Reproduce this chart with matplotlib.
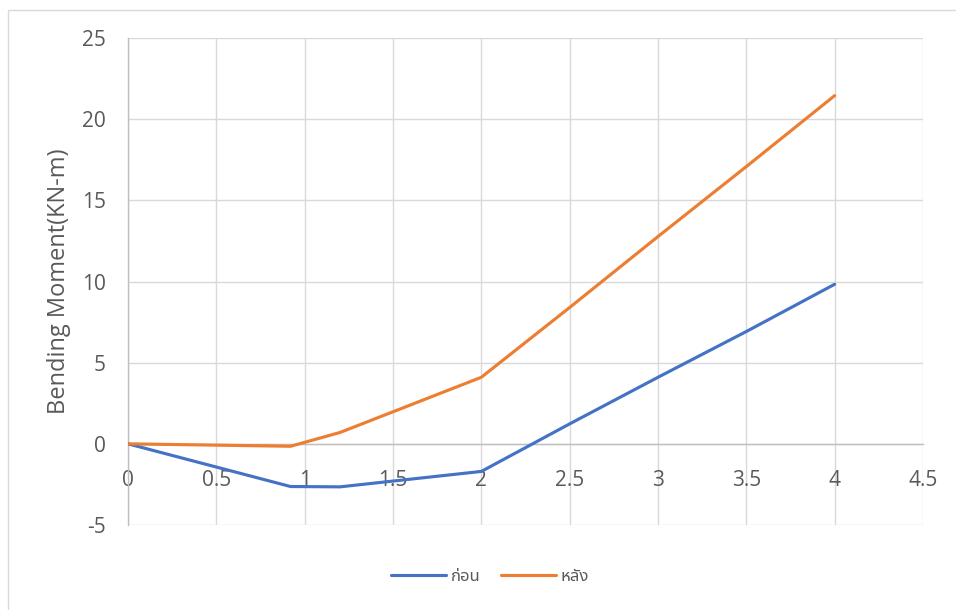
import matplotlib
matplotlib.use("Agg")
import matplotlib.pyplot as plt
from matplotlib import font_manager as fm
from matplotlib.patches import Rectangle

# ---- data ----
x_pos = [0, 0.92, 1.2, 2, 2.5, 3, 3.5, 4]
before = [0, -2.63, -2.65, -1.7, 1.23, 4.1, 6.92, 9.83]
after = [0, -0.15, 0.7, 4.1, 8.4, 12.77, 17.08, 21.45]
series_names = ["ก่อน", "หลัง"]
x_ticks = [0, 0.5, 1, 1.5, 2, 2.5, 3, 3.5, 4, 4.5]
x_ticklabels = ["0", "0.5", "1", "1.5", "2", "2.5", "3", "3.5", "4", "4.5"]
y_ticks = [-5, 0, 5, 10, 15, 20, 25]
y_label = "Bending Moment(KN-m)"

# ---- fonts ----
names = {f.name for f in fm.fontManager.ttflist}
latin = "Open Sans" if "Open Sans" in names else "DejaVu Sans"
thai = None
for cand in ["Noto Sans Thai", "Noto Sans Thai UI", "Sarabun", "Tahoma", "Leelawadee UI",
             "Loma", "Garuda", "Kanit", "Prompt", "Anuphan", "Bai Jamjuree"]:
    if cand in names:
        thai = cand
        break
fam = [latin] + ([thai] if thai else []) + ["DejaVu Sans"]
plt.rcParams['font.family'] = fam
plt.rcParams['axes.unicode_minus'] = False

text_col = "#595959"
grid_col = "#D9D9D9"
axis_col = "#BFBFBF"
blue = "#4472C4"
orange = "#ED7D31"

W, H = 956, 610
fig = plt.figure(figsize=(W / 100, H / 100), dpi=100)
fig.patch.set_facecolor("white")

# chart-area frame
fig.patches.append(Rectangle((7.5 / W, -0.1), 1.2, 1 - 9.5 / H + 0.1,
                             transform=fig.transFigure, fill=False,
                             edgecolor=grid_col, linewidth=1.0))

ax = fig.add_axes([128 / W, 1 - 525 / H, (923 - 128) / W, (525 - 38) / H])
ax.set_xlim(0, 4.5)
ax.set_ylim(-5, 25)
ax.set_xticks(x_ticks)
ax.set_xticklabels(x_ticklabels)
ax.set_yticks(y_ticks)
ax.grid(True, color=grid_col, linewidth=1.0)
ax.set_axisbelow(True)

for s in ["top", "right"]:
    ax.spines[s].set_visible(False)
ax.spines["left"].set_color(axis_col)
ax.spines["left"].set_linewidth(1.0)
ax.spines["bottom"].set_position(("data", 0))
ax.spines["bottom"].set_color(axis_col)
ax.spines["bottom"].set_linewidth(1.0)

ax.tick_params(axis="both", length=0, labelsize=15, labelcolor=text_col)
ax.tick_params(axis="x", pad=19)
ax.tick_params(axis="y", pad=16)

ax.plot(x_pos, before, color=blue, linewidth=2.25, solid_capstyle="round",
        solid_joinstyle="round", label=series_names[0], zorder=3)
ax.plot(x_pos, after, color=orange, linewidth=2.25, solid_capstyle="round",
        solid_joinstyle="round", label=series_names[1], zorder=3)

ax.set_ylabel(y_label, fontsize=17, color=text_col)
ax.yaxis.set_label_coords(-(128 - 71) / (923 - 128), 0.5)

leg = fig.legend(loc="center", bbox_to_anchor=(490 / W, 1 - 577 / H), ncol=2,
                 frameon=False, fontsize=12, handlelength=3.3, columnspacing=1.2,
                 handletextpad=0.3, labelcolor=text_col)

fig.savefig("out.png", dpi=100)
